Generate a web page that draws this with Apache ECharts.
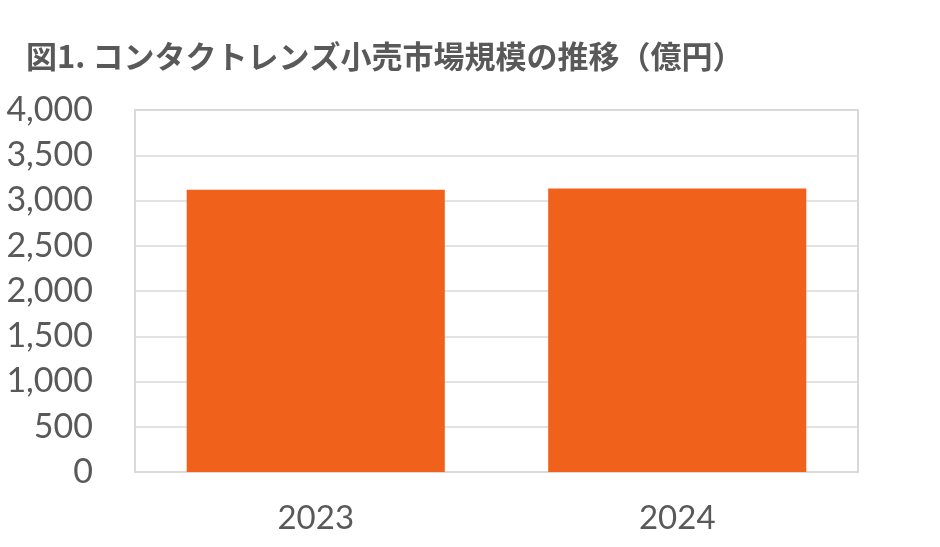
<!DOCTYPE html>
<html><head><meta charset="utf-8">
<script src="https://cdn.jsdelivr.net/npm/echarts@6/dist/echarts.min.js"></script>
<style>html,body{margin:0;padding:0;background:#fff}#c{width:940px;height:547px}</style>
</head><body><div id="c"></div>
<script>
const titleText = '図1. コンタクトレンズ小売市場規模の推移（億円）';
const categories = ['2023', '2024'];
const values = [3120, 3132];
const yMin = 0, yMax = 4000, yInterval = 500;

const chart = echarts.init(document.getElementById('c'), null, {renderer: 'canvas'});
chart.setOption({
  animation: false,
  backgroundColor: '#ffffff',
  title: {
    text: titleText, left: 21, top: 36,
    textStyle: {fontFamily: 'Noto Sans CJK JP', fontWeight: 'bold', fontSize: 31, color: '#595959'}
  },
  grid: {left: 135, right: 82, top: 110, bottom: 75, show: true, borderColor: '#d9d9d9', borderWidth: 2, containLabel: false},
  xAxis: {
    type: 'category', data: categories,
    axisLine: {show: false}, axisTick: {show: false},
    axisLabel: {fontFamily: 'Lato, "Noto Sans"', fontSize: 33, color: '#595959', margin: 30}
  },
  yAxis: {
    type: 'value', min: yMin, max: yMax, interval: yInterval,
    axisLine: {show: false}, axisTick: {show: false},
    splitLine: {lineStyle: {color: '#d9d9d9', width: 1.5}},
    axisLabel: {fontFamily: 'Lato, "Noto Sans"', fontSize: 34, color: '#595959', margin: 42,
      formatter: v => v.toLocaleString('en-US')}
  },
  series: [{
    type: 'bar', data: values, barCategoryGap: '28.6%',
    itemStyle: {color: '#f0611b'}
  }]
});
</script></body></html>
